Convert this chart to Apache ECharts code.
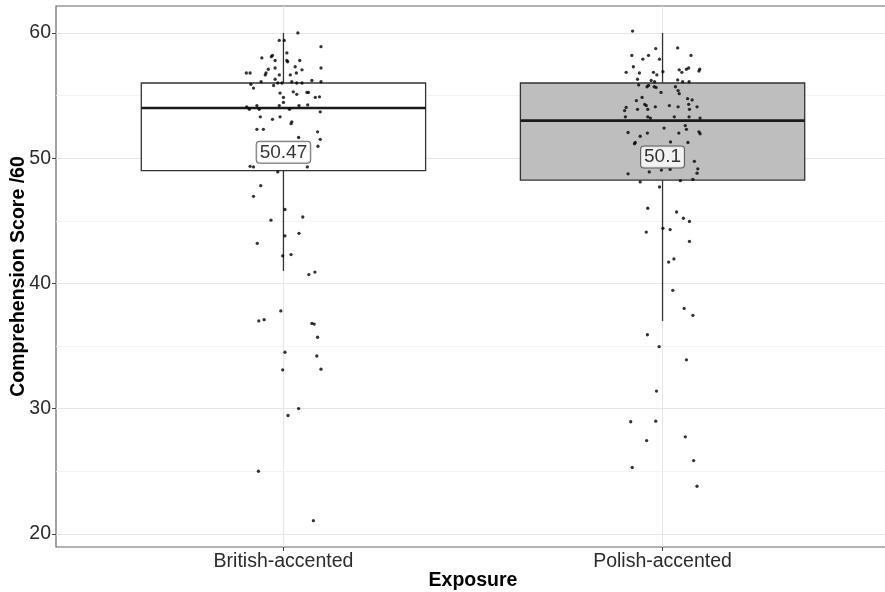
<!DOCTYPE html>
<html><head><meta charset="utf-8">
<script src="https://cdn.jsdelivr.net/npm/echarts@6/dist/echarts.min.js"></script>
<style>html,body{margin:0;padding:0;background:#fff}#c{width:885px;height:592px}</style>
</head><body><div id="c"></div>
<script>
const categories = ['British-accented', 'Polish-accented'];
const yTicks = [20, 30, 40, 50, 60];
const yMinorTicks = [25, 35, 45, 55];
// [lower whisker, Q1, median, Q3, upper whisker]
const britishBox = [41, 49, 54, 56, 60];
const polishBox = [37, 48.25, 53, 56, 60];
const means = [50.47, 50.1];
// jittered points: [horizontal jitter (category units), score]
const britishPoints = [
 [0.038,60.0],[-0.011,59.4],[0.002,59.4],[0.099,58.9],[0.009,58.4],[-0.057,58.0],[-0.029,58.2],[-0.032,58.1],
 [-0.022,57.8],[0.009,57.8],[0.011,57.7],[0.043,57.8],[0.031,57.3],[0.099,57.2],[-0.040,57.1],[-0.022,57.2],
 [0.049,57.05],[-0.098,56.8],[-0.088,56.8],[-0.046,56.8],[-0.048,56.65],[0.034,56.8],[0.018,56.65],[-0.011,56.65],
 [-0.022,56.3],[-0.059,56.1],[0.022,56.1],[0.035,56.0],[0.049,56.0],[0.075,56.2],[0.099,56.1],[-0.086,55.9],
 [-0.079,55.6],[-0.026,55.8],[-0.015,56.0],[-0.004,56.0],[-0.009,55.2],[0.026,55.3],[0.035,55.1],[0.062,55.25],
 [0.066,55.25],[0.0,54.85],[0.084,54.85],[0.095,54.9],[0.0,54.45],[-0.097,54.1],[-0.090,53.9],[-0.070,54.2],
 [-0.064,53.9],[-0.011,54.2],[0.016,53.9],[0.041,54.2],[0.064,54.25],[0.097,53.7],[-0.061,53.3],[-0.029,53.1],
 [-0.009,53.3],[0.022,52.9],[0.020,52.75],[-0.070,52.3],[-0.053,52.3],[0.090,52.1],[0.040,51.65],[0.097,51.5],
 [0.091,50.95],[-0.088,49.35],[-0.079,49.3],[0.063,49.3],[-0.015,48.9],[-0.060,47.8],[-0.079,46.95],[0.004,45.9],
 [0.051,45.3],[-0.033,45.05],[0.041,44.0],[0.004,43.8],[-0.069,43.2],[0.020,42.3],[-0.002,42.2],[0.067,40.7],
 [0.083,40.9],[-0.007,37.8],[-0.065,37.0],[-0.051,37.1],[0.075,36.8],[0.081,36.75],[0.090,35.7],[0.004,34.5],
 [0.088,34.2],[-0.002,33.1],[0.099,33.15],[0.040,30.0],[0.012,29.45],[-0.066,25.0],[0.079,21.05]
];
const polishPoints = [
 [-0.079,60.15],[-0.018,58.75],[0.040,58.8],[-0.081,58.2],[-0.037,58.2],[-0.008,57.9],[-0.052,57.9],[0.075,58.2],
 [-0.077,57.3],[-0.024,56.85],[-0.015,56.65],[-0.096,56.85],[-0.061,56.8],[0.001,56.9],[0.044,57.05],[0.051,56.85],
 [0.063,57.1],[0.069,57.2],[0.098,57.1],[0.096,56.95],[-0.066,56.3],[-0.030,56.2],[-0.021,56.1],[0.040,56.25],
 [0.053,56.1],[0.070,56.1],[-0.063,55.85],[-0.041,55.7],[-0.037,55.8],[-0.022,55.7],[-0.017,55.65],[0.034,55.7],
 [0.041,55.4],[0.044,55.15],[-0.004,55.25],[-0.054,54.85],[-0.069,54.6],[0.066,54.75],[0.078,54.65],[-0.047,54.3],
 [-0.043,54.2],[-0.019,54.1],[0.018,54.2],[0.041,54.1],[0.069,54.3],[0.071,53.9],[0.091,54.1],[-0.096,54.05],
 [-0.100,53.8],[-0.066,53.9],[-0.039,53.9],[-0.098,53.3],[-0.039,53.3],[-0.032,53.2],[0.031,53.3],[0.070,53.3],
 [0.099,53.2],[0.004,52.4],[0.060,52.6],[0.063,52.3],[-0.091,52.05],[-0.040,52.0],[0.043,52.0],[0.096,52.1],
 [0.099,51.95],[-0.059,51.75],[-0.072,51.25],[-0.074,51.15],[0.021,51.3],[0.067,51.25],[0.084,49.75],[0.093,49.15],
 [0.091,48.8],[-0.091,48.75],[-0.035,48.9],[-0.003,49.05],[0.020,49.1],[-0.059,48.1],[-0.008,47.7],[0.047,48.2],
 [0.080,48.3],[-0.039,46.0],[0.037,45.7],[0.055,45.2],[0.071,44.95],[-0.043,44.1],[0.001,44.4],[0.020,44.3],
 [0.071,43.35],[0.016,41.7],[0.030,41.95],[0.027,39.45],[0.057,38.0],[0.080,37.45],[-0.040,35.9],[-0.009,34.95],
 [0.063,33.9],[-0.016,31.4],[-0.084,28.95],[-0.018,29.0],[0.060,27.75],[-0.042,27.45],[0.082,25.85],[-0.080,25.3],
 [0.091,23.8]
];
const boxFills = ['#ffffff', '#bebebe'];
const boxWidth = 0.75;

const chart = echarts.init(document.getElementById('c'), null, {renderer: 'canvas'});
const font = '"Liberation Sans", Arial, sans-serif';

const boxData = [[1].concat(britishBox), [2].concat(polishBox)];

function renderBox(params, api) {
  const x = api.value(0);
  const lw = api.coord([x, api.value(1)]);
  const q1 = api.coord([x, api.value(2)]);
  const md = api.coord([x, api.value(3)]);
  const q3 = api.coord([x, api.value(4)]);
  const uw = api.coord([x, api.value(5)]);
  const half = api.size([boxWidth, 0])[0] / 2;
  const stroke = '#333333';
  return {
    type: 'group',
    children: [
      {type: 'line', shape: {x1: lw[0], y1: lw[1], x2: q1[0], y2: q1[1]}, style: {stroke: stroke, lineWidth: 1.3}},
      {type: 'line', shape: {x1: q3[0], y1: q3[1], x2: uw[0], y2: uw[1]}, style: {stroke: stroke, lineWidth: 1.3}},
      {type: 'rect', shape: {x: q1[0] - half, y: q3[1], width: half * 2, height: q1[1] - q3[1]},
        style: {fill: boxFills[params.dataIndex], stroke: stroke, lineWidth: 1.3}},
      {type: 'line', shape: {x1: md[0] - half, y1: md[1], x2: md[0] + half, y2: md[1]}, style: {stroke: '#1a1a1a', lineWidth: 2.6}}
    ]
  };
}

chart.setOption({
  backgroundColor: '#ffffff',
  animation: false,
  grid: {left: 56, right: -5, top: 6, bottom: 45, outerBoundsMode: 'none', containLabel: false,
    show: true, borderColor: '#666', borderWidth: 1.2, backgroundColor: 'transparent'},
  xAxis: {
    type: 'value', min: 0.4, max: 2.6,
    name: 'Exposure', nameLocation: 'middle', nameGap: 24, nameMoveOverlap: false,
    nameTextStyle: {fontFamily: font, fontSize: 19.5, fontWeight: 'bold', color: '#000'},
    axisLine: {show: false},
    axisTick: {show: true, length: 4, customValues: [1, 2], lineStyle: {color: '#444'}},
    axisLabel: {customValues: [1, 2], formatter: v => categories[Math.round(v) - 1], fontFamily: font, fontSize: 19.5, color: '#2b2b2b', margin: 5},
    splitLine: {show: true, lineStyle: {color: '#e6e6e6', width: 1}}
  },
  yAxis: {
    type: 'value', min: 18.95, max: 62.15,
    name: 'Comprehension Score /60', nameLocation: 'middle', nameGap: 27, nameMoveOverlap: false,
    nameTextStyle: {fontFamily: font, fontSize: 19.5, fontWeight: 'bold', color: '#000'},
    axisLine: {show: false},
    axisTick: {show: true, length: 4, customValues: yTicks, lineStyle: {color: '#444'}},
    axisLabel: {customValues: yTicks, fontFamily: font, fontSize: 19.5, color: '#2b2b2b', margin: 5},
    splitLine: {show: true, lineStyle: {color: '#e6e6e6', width: 1}}
  },
  series: [
    {
      type: 'line', data: [], z: 0, silent: true,
      markLine: {silent: true, z: 0, symbol: ['none', 'none'], label: {show: false},
        lineStyle: {color: '#f3f3f3', width: 1, type: 'solid'},
        data: yMinorTicks.map(v => ({yAxis: v}))}
    },
    {type: 'custom', renderItem: renderBox, data: boxData, z: 2, silent: true,
      encode: {x: 0, y: [1, 2, 3, 4, 5]}},
    {type: 'scatter', data: britishPoints.map(p => [1 + p[0], p[1]]), symbolSize: 3.3,
      itemStyle: {color: '#000'}, z: 3, silent: true},
    {type: 'scatter', data: polishPoints.map(p => [2 + p[0], p[1]]), symbolSize: 3.3,
      itemStyle: {color: '#000'}, z: 3, silent: true},
    {type: 'scatter', data: means.map((m, i) => [i + 1, m]), symbolSize: 0, z: 4, silent: true,
      label: {show: true, position: 'inside', formatter: p => String(p.value[1]),
        fontFamily: font, fontSize: 19, color: '#000', backgroundColor: '#fff',
        borderColor: '#444', borderWidth: 1, borderRadius: 3, padding: [2, 3, 0, 3]}}
  ]
});
</script></body></html>
